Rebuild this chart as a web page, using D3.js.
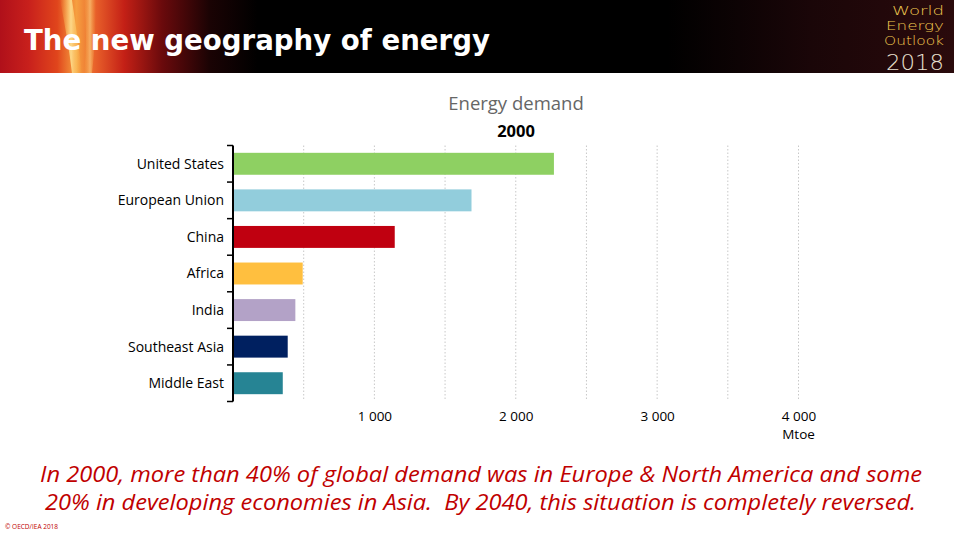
<!DOCTYPE html>
<html>
<head>
<meta charset="utf-8">
<script src="https://cdn.jsdelivr.net/npm/d3@7"></script>
<style>
  html, body { margin: 0; padding: 0; background: #fff; }
  svg { display: block; }
  text { white-space: pre; }
</style>
</head>
<body>
<div id="chart"></div>
<script>
// ---- Data ----
const categories = ["United States", "European Union", "China", "Africa", "India", "Southeast Asia", "Middle East"];
const values2000 = [2270, 1687, 1144, 493, 441, 387, 352];
const barColors = ["#8ed062", "#92cddc", "#c00010", "#ffbf3f", "#b3a2c7", "#002060", "#268494"];
const tickValues = [1000, 2000, 3000, 4000];
const gridValues = [500, 1000, 1500, 2000, 2500, 3000, 3500, 4000];
const chartTitle = "Energy demand";
const chartSubtitle = "2000";
const unitLabel = "Mtoe";
const pageTitle = "The new geography of energy";
const footnoteLines = [
  "In 2000, more than 40% of global demand was in Europe & North America and some",
  "20% in developing economies in Asia.  By 2040, this situation is completely reversed."
];
const logoLines = ["World", "Energy", "Outlook"];
const logoYear = "2018";
const copyright = "© OECD/IEA 2018";

// ---- Setup ----
const W = 954, H = 535;
const svg = d3.select("#chart").append("svg").attr("width", W).attr("height", H);
const defs = svg.append("defs");

function fitText(sel, target) {
  const node = sel.node();
  const fs = parseFloat(sel.attr("font-size"));
  const w = node.getComputedTextLength();
  if (w > 0) sel.attr("font-size", (fs * target / w).toFixed(2));
}

// ---- Header band ----
const hdrH = 73;
const g1 = defs.append("linearGradient").attr("id", "hdr").attr("x1", 0).attr("x2", 1).attr("y1", 0).attr("y2", 0);
[[0, "#b0101a"], [0.03, "#c8201c"], [0.06, "#e0451c"], [0.08, "#f6a040"], [0.1, "#e8602a"], [0.13, "#c42016"], [0.17, "#6a0a0c"], [0.22, "#1a0304"], [0.27, "#000"], [0.7, "#000"], [0.85, "#1a0608"], [1, "#2a0a0c"]]
  .forEach(([o, c]) => g1.append("stop").attr("offset", o).attr("stop-color", c));
svg.append("rect").attr("x", 0).attr("y", 0).attr("width", W).attr("height", hdrH).attr("fill", "url(#hdr)");

const g2 = defs.append("linearGradient").attr("id", "streak").attr("x1", 0).attr("x2", 1).attr("y1", 0).attr("y2", 0);
[[0, "rgba(255,200,80,0)"], [0.5, "rgba(255,230,150,0.85)"], [1, "rgba(255,200,80,0)"]]
  .forEach(([o, c]) => g2.append("stop").attr("offset", o).attr("stop-color", c));
svg.append("path").attr("d", "M60,0 L72,0 Q78,40 82,73 L72,73 Q68,40 60,0 Z").attr("fill", "url(#streak)");
svg.append("path").attr("d", "M84,0 L96,0 Q96,40 92,73 L84,73 Q88,40 84,0 Z").attr("fill", "url(#streak)").attr("opacity", 0.6);

const title = svg.append("text").attr("x", 24).attr("y", 50)
  .attr("font-family", "'DejaVu Sans', sans-serif").attr("font-weight", "bold")
  .attr("font-size", 30).attr("fill", "#fff").text(pageTitle);
fitText(title, 466);

// logo
const logo = svg.append("g").attr("font-family", "'DejaVu Sans', sans-serif").attr("text-anchor", "end");
const logoWidths = [52, 58, 60];
logoLines.forEach((t, i) => {
  logo.append("text").attr("x", 944).attr("y", 15 + i * 15).attr("font-size", 12)
    .attr("fill", "#f0c850").attr("font-weight", "200")
    .attr("textLength", logoWidths[i]).attr("lengthAdjust", "spacingAndGlyphs").text(t);
});
logo.append("text").attr("x", 944).attr("y", 70).attr("font-size", 22)
  .attr("fill", "#e8e0d0").attr("font-weight", "200")
  .attr("textLength", 58).attr("lengthAdjust", "spacingAndGlyphs").text(logoYear);

// ---- Chart ----
const x = d3.scaleLinear().domain([0, 4000]).range([233, 798.5]);
const y = d3.scaleBand().domain(categories).range([145.5, 401.5]).paddingInner(0.4).paddingOuter(0.2);

svg.append("text").attr("x", 516).attr("y", 110).attr("text-anchor", "middle")
  .attr("font-family", "'Open Sans', sans-serif").attr("font-size", 18.5).attr("fill", "#666")
  .text(chartTitle);
svg.append("text").attr("x", 516).attr("y", 137).attr("text-anchor", "middle")
  .attr("font-family", "'Open Sans', sans-serif").attr("font-weight", "bold").attr("font-size", 16.5).attr("fill", "#000")
  .text(chartSubtitle);

// gridlines
svg.append("g").selectAll("line").data(gridValues).join("line")
  .attr("x1", d => x(d)).attr("x2", d => x(d))
  .attr("y1", 145.5).attr("y2", 400)
  .attr("stroke", "#c8c8c8").attr("stroke-width", 1).attr("stroke-dasharray", "1.5,2");

// bars
svg.append("g").selectAll("rect").data(categories).join("rect")
  .attr("x", x(0)).attr("y", d => y(d))
  .attr("width", (d, i) => x(values2000[i]) - x(0))
  .attr("height", y.bandwidth())
  .attr("fill", (d, i) => barColors[i]);

// y axis (category boundaries as ticks)
const boundaries = d3.range(categories.length + 1).map(i => 145.5 + i * (256 / categories.length));
const yAxisG = svg.append("g");
yAxisG.append("line").attr("x1", 233).attr("x2", 233).attr("y1", 145.5).attr("y2", 401.5)
  .attr("stroke", "#000").attr("stroke-width", 2);
yAxisG.selectAll("line.tk").data(boundaries).join("line").attr("class", "tk")
  .attr("x1", 227).attr("x2", 233).attr("y1", d => d).attr("y2", d => d)
  .attr("stroke", "#000").attr("stroke-width", 1.5);
yAxisG.selectAll("text").data(categories).join("text")
  .attr("x", 224).attr("y", d => y(d) + y.bandwidth() / 2).attr("dy", "0.35em")
  .attr("text-anchor", "end").attr("font-family", "'Open Sans', sans-serif").attr("font-size", 14)
  .attr("fill", "#000").text(d => d);

// x axis labels
const fmt = v => d3.format(",")(v).replace(/,/g, " ");
const xAxis = d3.axisBottom(x).tickValues(tickValues).tickFormat(fmt).tickSize(0).tickPadding(0);
const xg = svg.append("g").attr("transform", "translate(0,411)").call(xAxis);
xg.select(".domain").remove();
xg.selectAll("text").attr("font-family", "'Open Sans', sans-serif").attr("font-size", 13.5).attr("fill", "#000");
svg.append("text").attr("x", x(4000)).attr("y", 439).attr("text-anchor", "middle")
  .attr("font-family", "'Open Sans', sans-serif").attr("font-size", 13.5).attr("fill", "#000").text(unitLabel);

// ---- Footnote ----
const fnSpans = [[40, 922, 482], [45, 916, 510]];
footnoteLines.forEach((t, i) => {
  const [a, b, yy] = fnSpans[i];
  const tx = svg.append("text").attr("x", (a + b) / 2).attr("y", yy).attr("text-anchor", "middle")
    .attr("font-family", "'Open Sans', sans-serif").attr("font-style", "italic")
    .attr("font-size", 22).attr("fill", "#c00000").text(t);
  tx.attr("textLength", b - a).attr("lengthAdjust", "spacingAndGlyphs");
});
svg.append("text").attr("x", 5).attr("y", 529).attr("font-family", "'Open Sans', sans-serif")
  .attr("font-size", 6.5).attr("fill", "#c00000").text(copyright);
</script>
</body>
</html>
